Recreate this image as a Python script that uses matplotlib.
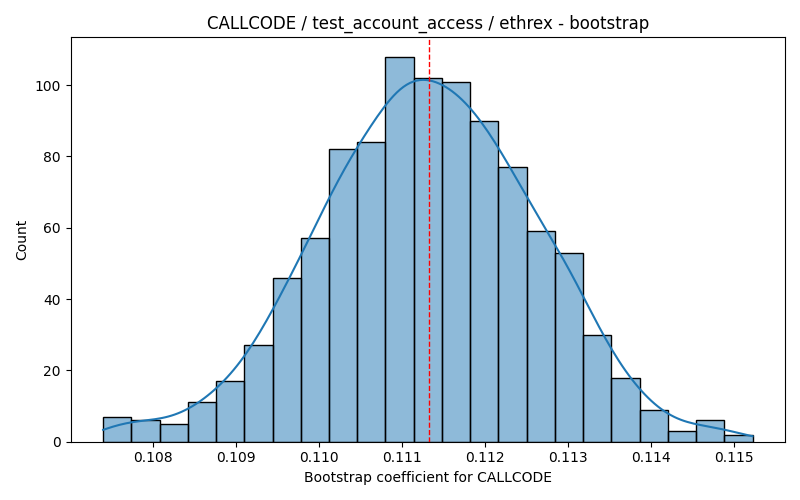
import numpy as np
import matplotlib
matplotlib.use('Agg')
import matplotlib.pyplot as plt
import seaborn as sns
import pandas as pd

# bootstrap histogram (23 bins, 1000 resamples)
bin_lo = 0.107397
bin_hi = 0.115229
countsL = [7, 6, 5, 11, 17, 27, 46, 57, 82, 84, 108, 102, 101,
           90, 77, 59, 53, 30, 18, 9, 3, 6, 2]
mean_coef = 0.111323

edges = np.linspace(bin_lo, bin_hi, len(countsL) + 1)
centers = 0.5 * (edges[:-1] + edges[1:])
counts = np.array(countsL, dtype=float)

# add the sample min / max with zero weight so the kde spans the same range
df = pd.DataFrame({
    'coef': np.concatenate([[bin_lo], centers, [bin_hi]]),
    'w': np.concatenate([[0.0], counts, [0.0]]),
})

# weighted kde uses n_eff; rescale bandwidth back to the full sample size
n_tot = counts.sum()
n_eff = n_tot**2 / (counts**2).sum()
bw_adj = (n_eff / n_tot) ** 0.2

fig, ax = plt.subplots(figsize=(8, 5))
sns.histplot(data=df, x='coef', weights='w', bins=edges.tolist(), kde=True, ax=ax,
             kde_kws={'bw_adjust': bw_adj}, line_kws={'linewidth': 1.5})
ax.axvline(mean_coef, color='red', linestyle='--', linewidth=1)

ax.set_title('CALLCODE / test_account_access / ethrex - bootstrap')
ax.set_xlabel('Bootstrap coefficient for CALLCODE')
ax.set_ylabel('Count')

fig.tight_layout()
fig.savefig('out.png', dpi=100)
